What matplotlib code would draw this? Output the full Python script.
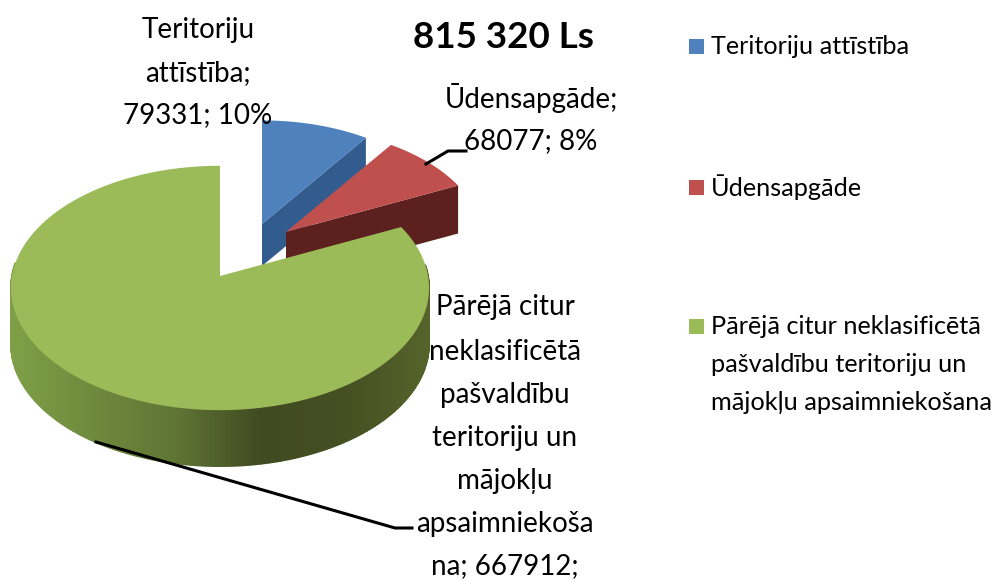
import matplotlib
matplotlib.use('Agg')
import matplotlib.pyplot as plt
import numpy as np
from matplotlib.collections import PolyCollection
from matplotlib.colors import LinearSegmentedColormap
from matplotlib.patches import Rectangle

plt.rcParams['font.family'] = ['Lato', 'DejaVu Sans']

title = '815 320 Ls'
names = ['Teritoriju attīstība', 'Ūdensapgāde',
         'Pārējā citur neklasificētā pašvaldību teritoriju un mājokļu apsaimniekošana']
values = [79331, 68077, 667912]
percents = ['10%', '8%']
top_colors = ['#4f81bd', '#c0504d', '#9bbb59']
cut_colors = ['#335c8e', '#5c211e', '#414a20']

legend_lines = [['Teritoriju attīstība'], ['Ūdensapgāde'],
                ['Pārējā citur neklasificētā', 'pašvaldību teritoriju un',
                 'mājokļu apsaimniekošana']]
legend_y = [46, 187, 326]

# apex x, apex y, scale, depth of each exploded slice
slices = [(262, 224, 0.94, 42), (286, 232, 0.95, 48), (220, 276, 1.0, 56)]
RX, RY, K = 208, 121, 0.098
rim_cmap = LinearSegmentedColormap.from_list(
    'rim', ['#7f9f47', '#6e8a3d', '#5f7535', '#414a20', '#454f22', '#55632b'])


def project(theta, cx, cy, s):
    u, v = np.sin(theta), np.cos(theta)
    return cx + s * RX * u / (1 + K * v), cy - s * RY * v / (1 + K * v)


fig = plt.figure(figsize=(9.98, 5.81), dpi=100)
ax = fig.add_axes([0, 0, 1, 1])
ax.set_xlim(0, 998)
ax.set_ylim(581, 0)
ax.axis('off')

edges = np.concatenate([[0], np.cumsum(values) / np.sum(values) * 2 * np.pi])
for i, (cx, cy, s, depth) in enumerate(slices):
    theta = np.linspace(edges[i], edges[i + 1], 300)
    x, y = project(theta, cx, cy, s)
    if i == 2:
        # only the near half of the rim shows
        near = np.where(np.cos(theta[:-1]) < 0.1)[0]
        quads = [[(x[j], y[j]), (x[j + 1], y[j + 1]),
                  (x[j + 1], y[j + 1] + depth), (x[j], y[j] + depth)]
                 for j in near]
        shade = rim_cmap((x[near] - 10) / 418)
        ax.add_collection(PolyCollection(quads, facecolors=shade,
                                         edgecolors=shade, linewidths=1.2))
    else:
        # cut face on the trailing edge of the slice
        ax.fill([cx, x[-1], x[-1], cx], [cy, y[-1], y[-1] + depth, cy + depth],
                color=cut_colors[i], lw=0)
    ax.fill(np.r_[cx, x], np.r_[cy, y], color=top_colors[i], lw=0)

# leader lines
ax.plot([426, 448, 466], [164, 151, 151], color='black', lw=2.2)
ax.plot([96, 395, 412], [442, 528, 528], color='black', lw=2.2)

ax.text(503, 38, title, fontsize=26.5, fontweight='bold', ha='center', va='center')

fs = 20
label_0 = ['Teritoriju', 'attīstība;', f'{values[0]}; {percents[0]}']
for line, yy in zip(label_0, [30, 73, 115]):
    ax.text(198, yy, line, fontsize=fs, ha='center', va='center')
label_1 = ['Ūdensapgāde;', f'{values[1]}; {percents[1]}']
for line, yy in zip(label_1, [98, 141]):
    ax.text(531, yy, line, fontsize=fs, ha='center', va='center')
label_2 = ['Pārējā citur', 'neklasificētā', 'pašvaldību', 'teritoriju un',
           'mājokļu', 'apsaimniekoša', f'na; {values[2]};']
for line, yy in zip(label_2, [307, 352, 395, 438, 481, 524, 566]):
    ax.text(505, yy, line, fontsize=fs, ha='center', va='center')

for lines, yy, color in zip(legend_lines, legend_y, top_colors):
    ax.add_patch(Rectangle((689, yy - 7), 15, 15, color=color, lw=0))
    for k, line in enumerate(lines):
        ax.text(711, yy + k * 38, line, fontsize=18.2, ha='left', va='center')

fig.savefig('out.png', dpi=100)
